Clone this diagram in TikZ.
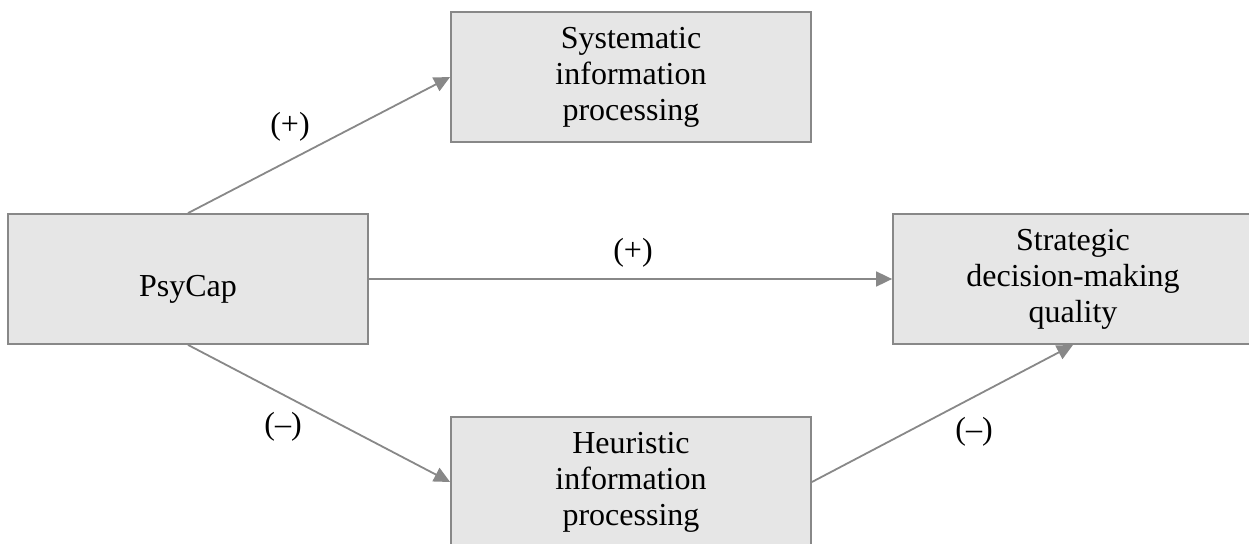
\documentclass[tikz,border=0pt]{standalone}
\usepackage{fontspec}
\setmainfont{Liberation Serif}
\usetikzlibrary{arrows.meta}
\definecolor{boxgray}{RGB}{230,230,230}
\definecolor{linegray}{RGB}{136,136,136}

\begin{document}
\begin{tikzpicture}[x=1pt, y=-1pt,
  box/.style={draw=linegray, fill=boxgray, line width=1.8pt, minimum width=360pt, minimum height=130pt,
    align=center, inner sep=0pt, font=\fontsize{32}{36}\selectfont,
    execute at begin node={\rule{0pt}{42pt}}},
  link/.style={draw=linegray, line width=1.8pt, -{Triangle[length=16pt,width=15pt]}},
  sign/.style={font=\fontsize{32}{36}\selectfont}]
  \useasboundingbox (0,0) rectangle (1249,543);

  \node[box] (psycap) at (188,279) {PsyCap};
  \node[box] (sys) at (631,77) {Systematic\\information\\processing};
  \node[box] (heur) at (631,482) {Heuristic\\information\\processing};
  \node[box] (sdq) at (1073,279) {Strategic\\decision-making\\quality};

  \draw[link] (psycap.north) -- (sys.west);
  \draw[link] (psycap.east) -- (sdq.west);
  \draw[link] (psycap.south) -- (heur.west);
  \draw[link] (heur.east) -- (sdq.south);

  % signs of the paths
  \node[sign] (s1) at (290,127) {(+)};
  \node[sign] (s2) at (633,253) {(+)};
  \node[sign] (s3) at (283,427) {(\textendash)};
  \node[sign] (s4) at (974,432) {(\textendash)};
\end{tikzpicture}
\end{document}
